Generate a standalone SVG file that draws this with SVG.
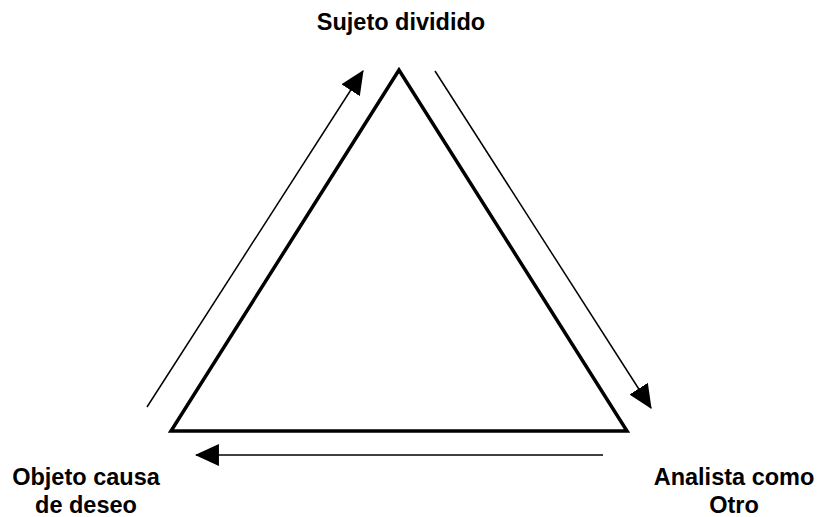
<svg xmlns="http://www.w3.org/2000/svg" width="817" height="517" viewBox="0 0 817 517">
<style>
.lbl{font-family:"Liberation Sans",Arial,sans-serif;font-weight:bold;font-size:23.5px;fill:#000;text-anchor:middle}
.arr{stroke:#000;stroke-width:1.5;fill:none;marker-end:url(#ah)}
</style>
<defs>
<marker id="ah" markerUnits="userSpaceOnUse" markerWidth="24" markerHeight="24" viewBox="0 0 22 22" refX="21" refY="11" orient="auto">
<path d="M0,1 L22,11 L0,21 Z" fill="#000"/>
</marker>
</defs>
<rect width="817" height="517" fill="#fff"/>
<g id="triangle">
<polygon points="399,70 171,431 627,431" fill="none" stroke="#000" stroke-width="3.5" stroke-linejoin="miter"/>
</g>
<g id="connectors">
<line class="arr" x1="147" y1="407" x2="363" y2="71"/>
<line class="arr" x1="435" y1="71" x2="651" y2="408"/>
<line class="arr" x1="603" y1="455" x2="196" y2="455"/>
</g>
<g id="n-sujeto"><text class="lbl" x="401" y="30">Sujeto dividido</text></g>
<g id="n-objeto"><text class="lbl" x="86" y="485">Objeto causa</text><text class="lbl" x="86" y="513">de deseo</text></g>
<g id="n-analista"><text class="lbl" x="734" y="485">Analista como</text><text class="lbl" x="734" y="513">Otro</text></g>
</svg>
